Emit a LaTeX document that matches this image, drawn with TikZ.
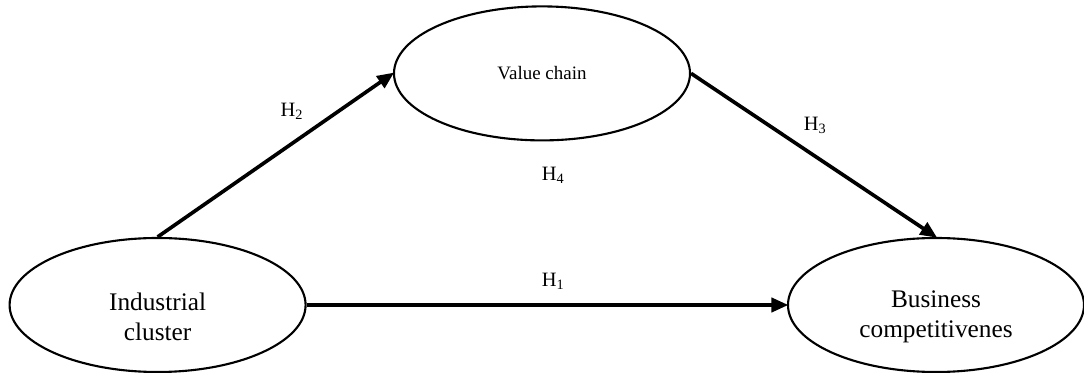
\documentclass[tikz,border=0pt]{standalone}
\usepackage{fontspec}
\setmainfont{Liberation Serif}
\usepackage{tikz}
\usetikzlibrary{positioning,arrows.meta,shapes.geometric}

\begin{document}
\begin{tikzpicture}[>={Triangle[length=12pt,width=10pt]},
    construct/.style={draw, ellipse, line width=1.5pt, minimum width=7.4cm, minimum height=3.35cm, inner sep=0pt},
    link/.style={->, line width=2.6pt, shorten >=-1pt},
    hyp/.style={font=\fontsize{14.5}{16}\selectfont, inner sep=0pt}]

    \useasboundingbox (0,0) rectangle (27.1,9.325);

    % =========================================================================
    % Constructs
    % =========================================================================
    \node[construct, label={[align=center, yshift=-0.3cm, font=\fontsize{18}{21.5}\selectfont]center:Industrial\\cluster}] (ic) at (3.94, 1.70) {};
    \node[construct, font=\fontsize{13.5}{15}\selectfont] (vc) at (13.55, 7.49) {Value chain};
    \node[construct, label={[align=center, yshift=-0.3cm, font=\fontsize{18}{21.5}\selectfont]center:Business\\competitivenes}] (bc) at (23.4, 1.70) {};

    % =========================================================================
    % Paths
    % =========================================================================
    \draw[link] (ic.north) -- (vc.west);
    \draw[link] (vc.east) -- (bc.north);
    \draw[link] (ic.east) -- (bc.west);

    % Hypothesis labels
    \node[hyp] (h2) at (7.3, 6.53) {H\textsubscript{2}};
    \node[hyp] (h3) at (20.38, 6.2) {H\textsubscript{3}};
    \node[hyp] (h4) at (13.83, 4.93) {H\textsubscript{4}};
    \node[hyp] (h1) at (13.83, 2.3) {H\textsubscript{1}};

\end{tikzpicture}
\end{document}
